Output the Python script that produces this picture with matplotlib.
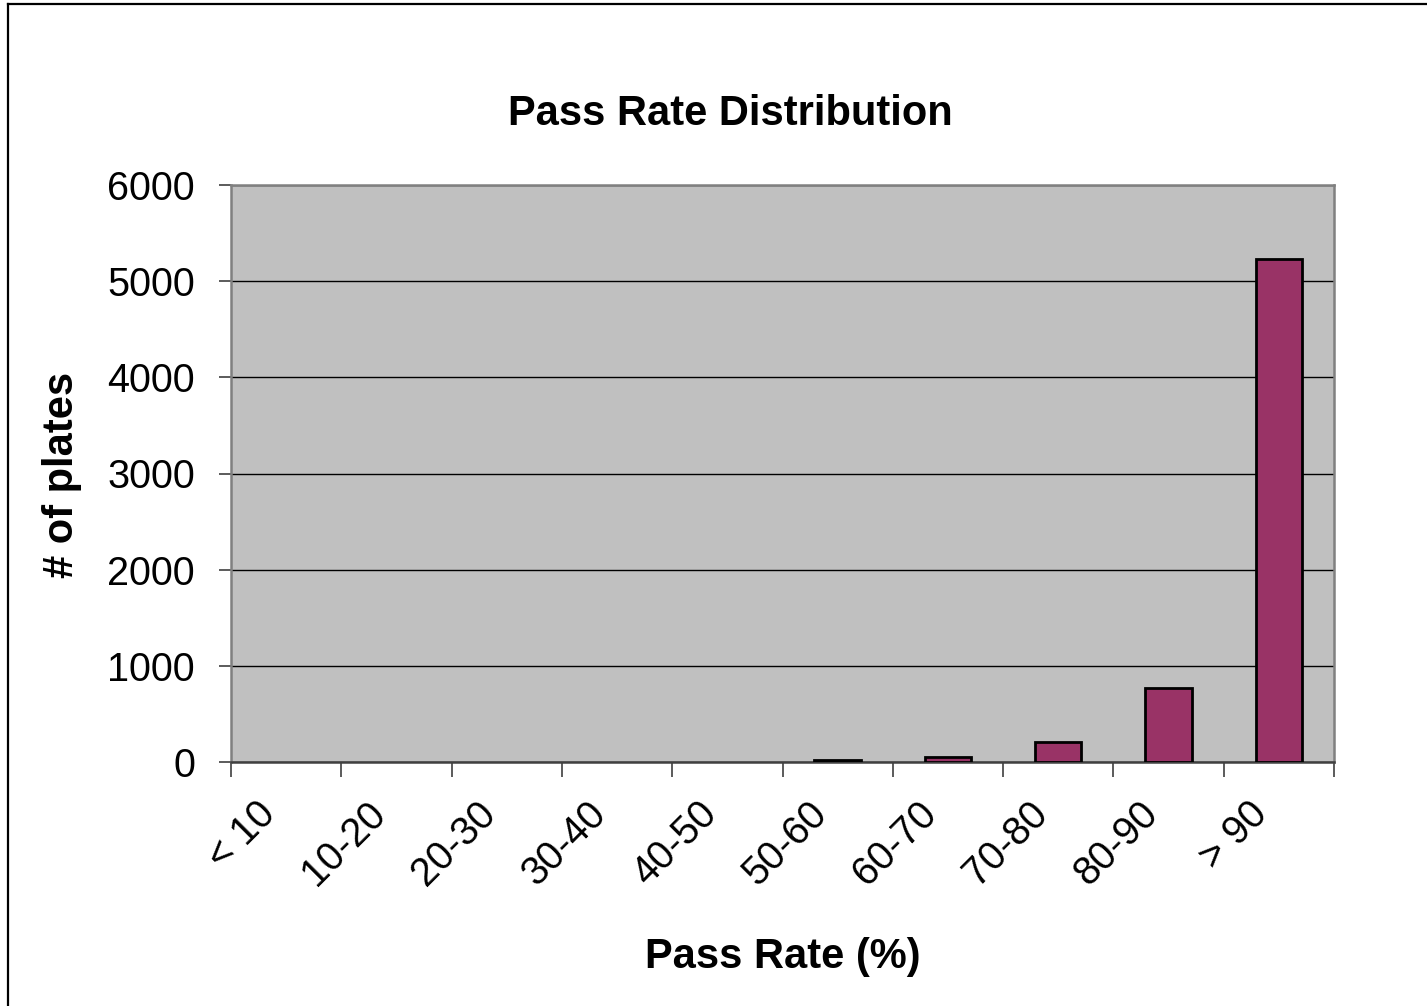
import matplotlib
matplotlib.use("Agg")
import matplotlib.pyplot as plt
from matplotlib.lines import Line2D
from matplotlib.transforms import ScaledTranslation

plt.rcParams['font.family'] = ['Liberation Sans', 'DejaVu Sans']

categories = ["< 10", "10-20", "20-30", "30-40", "40-50",
              "50-60", "60-70", "70-80", "80-90", "> 90"]
plates = [0, 0, 0, 0, 0, 20, 55, 205, 765, 5230]
y_ticks = [0, 1000, 2000, 3000, 4000, 5000, 6000]

W, H = 1427, 1006
fig = plt.figure(figsize=(W / 100, H / 100), dpi=100)
fig.patch.set_facecolor("white")

# outer chart frame (only top and left edges fall inside the image)
fig.add_artist(Line2D([8 / W, 8 / W], [0, 1 - 4 / H], transform=fig.transFigure,
                      color="black", lw=1.6))
fig.add_artist(Line2D([8 / W, 1], [1 - 4 / H, 1 - 4 / H], transform=fig.transFigure,
                      color="black", lw=1.6))

ax = fig.add_axes([231 / W, 1 - 762 / H, (1334 - 231) / W, (762 - 185) / H])
ax.set_facecolor("#C0C0C0")

x = list(range(len(categories)))
edges = ["black" if v > 0 else "none" for v in plates]
ax.bar(x, plates, width=0.42, color="#993366", edgecolor=edges,
       linewidth=2, zorder=3)

ax.set_xlim(-0.5, len(categories) - 0.5)
ax.set_ylim(0, 6000)
ax.set_yticks(y_ticks)
ax.set_yticklabels([str(v) for v in y_ticks], fontsize=28.5)
ax.yaxis.grid(True, color="black", linewidth=1, zorder=1)
ax.set_axisbelow(True)

# category labels centred, tick marks between categories
ax.set_xticks(x)
ax.set_xticklabels(categories, fontsize=28.5, rotation=45, ha="right",
                   va="center", rotation_mode="anchor")
ax.tick_params(axis="x", which="major", length=0, pad=33)
shift = ScaledTranslation(-17 / 100, 0, fig.dpi_scale_trans)
for lbl in ax.get_xticklabels():
    lbl.set_transform(lbl.get_transform() + shift)
ax.set_xticks([i - 0.5 for i in range(len(categories) + 1)], minor=True)
ax.tick_params(axis="x", which="minor", length=11, width=1.2, color="#404040")
ax.tick_params(axis="y", length=9, width=1.2, color="#404040", pad=17)

for s in ax.spines.values():
    s.set_color("#808080")
    s.set_linewidth(1.8)
ax.spines["bottom"].set_color("#404040")

fig.text(730 / W, 1 - 114 / H, "Pass Rate Distribution", ha="center",
         va="center", fontsize=30, fontweight="bold")
fig.text(783 / W, 1 - 957 / H, "Pass Rate (%)", ha="center", va="center",
         fontsize=30, fontweight="bold")
fig.text(62 / W, 1 - 475 / H, "# of plates", ha="center", va="center",
         fontsize=30, fontweight="bold", rotation=90)

fig.savefig("out.png", dpi=100)
